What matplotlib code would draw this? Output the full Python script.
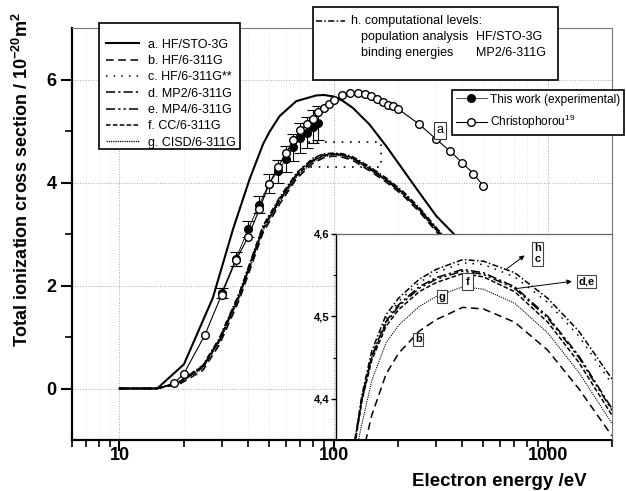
import matplotlib
matplotlib.use("Agg")
import matplotlib.pyplot as plt
from matplotlib.lines import Line2D
from matplotlib.patches import Rectangle
from matplotlib.ticker import LogLocator, NullFormatter, FixedLocator

plt.rcParams['font.family'] = ['Liberation Sans', 'DejaVu Sans']
plt.rcParams['mathtext.fontset'] = 'custom'
plt.rcParams['mathtext.rm'] = 'Liberation Sans'
plt.rcParams['mathtext.bf'] = 'Liberation Sans:bold'
plt.rcParams['mathtext.it'] = 'Liberation Sans:italic'

# ---------------- data ----------------
E_a = [10, 15, 20, 27.3, 33.9, 37.7, 40.5, 46.8, 50, 56, 67, 83, 90, 100, 110, 123, 147, 176, 211, 252, 302, 367, 420]
a_HF_STO3G = [0, 0, 0.47, 1.76, 3.09, 3.67, 4.06, 4.74, 4.97, 5.29, 5.58, 5.69, 5.70, 5.67, 5.59, 5.45, 5.13, 4.71, 4.25, 3.80, 3.35, 2.99, 2.72]

E_main = [10, 15, 19, 24.5, 29.3, 36.3, 46.8, 56, 67, 80, 90, 100, 110, 123, 147, 176, 211, 252, 313, 400]
b_HF_6311G = [0, 0, 0.08, 0.35, 0.85, 1.72, 3.02, 3.58, 4.07, 4.37, 4.48, 4.512, 4.49, 4.43, 4.23, 4.01, 3.75, 3.43, 2.97, 2.45]
c_HF_6311Gss = [0, 0, 0.13, 0.44, 0.97, 1.85, 3.15, 3.70, 4.17, 4.46, 4.55, 4.565, 4.55, 4.49, 4.30, 4.08, 3.82, 3.50, 3.04, 2.52]
d_MP2 = [0, 0, 0.12, 0.43, 0.95, 1.82, 3.12, 3.67, 4.15, 4.44, 4.53, 4.557, 4.54, 4.48, 4.28, 4.06, 3.80, 3.48, 3.02, 2.50]
e_MP4 = [0, 0, 0.12, 0.42, 0.94, 1.81, 3.11, 3.66, 4.14, 4.43, 4.53, 4.555, 4.535, 4.475, 4.275, 4.055, 3.795, 3.475, 3.015, 2.495]
f_CC = [0, 0, 0.11, 0.41, 0.93, 1.80, 3.10, 3.65, 4.13, 4.42, 4.52, 4.552, 4.53, 4.47, 4.27, 4.05, 3.79, 3.47, 3.01, 2.49]
g_CISD = [0, 0, 0.10, 0.39, 0.90, 1.77, 3.07, 3.62, 4.10, 4.40, 4.50, 4.537, 4.515, 4.455, 4.255, 4.035, 3.775, 3.455, 2.995, 2.475]
h_mixed = [0, 0, 0.13, 0.45, 0.98, 1.86, 3.16, 3.71, 4.18, 4.47, 4.56, 4.57, 4.56, 4.50, 4.31, 4.09, 3.83, 3.51, 3.05, 2.53]

E_chr = [18, 20, 25, 30, 35, 40, 45, 50, 55, 60, 65, 70, 75, 80, 85, 90, 95, 100, 110, 120,
         130, 140, 150, 160, 170, 180, 190, 200, 250, 300, 350, 400, 450, 500]
christophorou = [0.10, 0.29, 1.03, 1.82, 2.49, 2.95, 3.48, 3.97, 4.30, 4.57, 4.82, 5.01, 5.13, 5.24, 5.36, 5.45,
                 5.53, 5.60, 5.70, 5.74, 5.73, 5.71, 5.68, 5.62, 5.57, 5.51, 5.48, 5.43, 5.14, 4.85, 4.61, 4.38, 4.17, 3.94]

E_exp = [30, 35, 40, 45, 50, 55, 60, 65, 70, 75, 80, 85]
experimental = [1.86, 2.52, 3.10, 3.57, 3.98, 4.22, 4.46, 4.68, 4.87, 4.97, 5.08, 5.16]
exp_err = [0.10, 0.14, 0.16, 0.17, 0.19, 0.22, 0.25, 0.27, 0.29, 0.30, 0.32, 0.33]

# inset (enlarged peak region)
E_in = [125, 135, 150, 175, 200, 250, 300, 400, 500, 700, 1000, 1400, 2000]
h_in = [4.350, 4.405, 4.458, 4.502, 4.522, 4.545, 4.557, 4.569, 4.567, 4.553, 4.522, 4.482, 4.424]
c_in = [4.345, 4.400, 4.453, 4.497, 4.518, 4.541, 4.553, 4.565, 4.563, 4.548, 4.517, 4.476, 4.418]
d_in = [4.348, 4.402, 4.452, 4.494, 4.514, 4.536, 4.547, 4.557, 4.553, 4.536, 4.500, 4.452, 4.388]
e_in = [4.346, 4.400, 4.450, 4.492, 4.512, 4.534, 4.545, 4.555, 4.551, 4.534, 4.498, 4.450, 4.386]
f_in = [4.345, 4.398, 4.447, 4.488, 4.508, 4.530, 4.541, 4.552, 4.548, 4.530, 4.493, 4.444, 4.380]
g_in = [4.330, 4.370, 4.422, 4.468, 4.489, 4.512, 4.524, 4.536, 4.533, 4.516, 4.480, 4.432, 4.370]
b_in = [4.290, 4.330, 4.380, 4.430, 4.455, 4.482, 4.496, 4.511, 4.509, 4.493, 4.459, 4.412, 4.355]

# zoom box drawn in the main panel
box_E = [70, 167]
box_y = [4.30, 4.78]

legend_labels = ['a. HF/STO-3G', 'b. HF/6-311G', 'c. HF/6-311G**', 'd. MP2/6-311G',
                 'e. MP4/6-311G', 'f. CC/6-311G', 'g. CISD/6-311G']

# ---------------- styles ----------------
sty = {
    'a': dict(ls='-', lw=1.5),
    'b': dict(ls=(0, (5, 3)), lw=1.1),
    'c': dict(ls=(0, (1, 4)), lw=1.1),
    'd': dict(ls=(0, (6, 2, 1.5, 2)), lw=1.1),
    'e': dict(ls=(0, (6, 2, 1.5, 2, 1.5, 2)), lw=1.1),
    'f': dict(ls=(0, (3, 1.5)), lw=1.1),
    'g': dict(ls=(0, (1, 0.8)), lw=0.9),
    'h': dict(ls=(0, (4, 1.5, 1, 1.5)), lw=1.1),
}

W, H = 626, 491
fig = plt.figure(figsize=(W / 100, H / 100), dpi=100)
L, R, T, B = 72, 612, 28, 440
ax = fig.add_axes([L / W, 1 - B / H, (R - L) / W, (B - T) / H])

ax.set_xscale('log')
ax.set_xlim(6, 2000)
ax.set_ylim(-1, 7)

la, = ax.plot(E_a, a_HF_STO3G, color='black', **sty['a'], zorder=3)
lb, = ax.plot(E_main, b_HF_6311G, color='black', **sty['b'], zorder=3)
lc, = ax.plot(E_main, c_HF_6311Gss, color='black', **sty['c'], zorder=3)
ld, = ax.plot(E_main, d_MP2, color='black', **sty['d'], zorder=3)
le, = ax.plot(E_main, e_MP4, color='black', **sty['e'], zorder=3)
lf, = ax.plot(E_main, f_CC, color='black', **sty['f'], zorder=3)
lg, = ax.plot(E_main, g_CISD, color='black', **sty['g'], zorder=3)
lh, = ax.plot(E_main, h_mixed, color='black', **sty['h'], zorder=3)

# dotted zoom box (three visible sides)
ax.plot([box_E[0], box_E[1], box_E[1], box_E[0]], [box_y[1], box_y[1], box_y[0], box_y[0]],
        color='black', ls=(0, (1, 4)), lw=1.2, zorder=2)

ax.errorbar(E_exp, experimental, yerr=exp_err, fmt='o', color='black', ms=5.5,
            mfc='black', mec='black', elinewidth=0.8, capsize=4, capthick=0.8, zorder=4)
ax.plot(E_exp, experimental, color='black', lw=0.6, zorder=4)
ax.plot(E_chr, christophorou, color='black', lw=0.8, marker='o', ms=5.5, mfc='white',
        mec='black', mew=1.0, zorder=5)

ax.text(313, 5.01, 'a', fontsize=9, ha='center', va='center', zorder=6,
        bbox=dict(boxstyle='square,pad=0.2', fc='white', ec='#333333', lw=0.8))

# axes styling
ax.xaxis.set_major_locator(FixedLocator([10, 100, 1000]))
ax.set_xticklabels(['10', '100', '1000'])
ax.xaxis.set_minor_locator(LogLocator(base=10, subs=[2, 3, 4, 5, 6, 7, 8, 9]))
ax.xaxis.set_minor_formatter(NullFormatter())
ax.set_yticks([0, 2, 4, 6])
ax.yaxis.set_minor_locator(FixedLocator([1, 3, 5]))
ax.tick_params(which='major', direction='out', length=8, width=1.5, labelsize=13)
ax.tick_params(axis='x', which='major', pad=-3)
ax.tick_params(axis='y', which='major', pad=3)
ax.tick_params(which='minor', direction='out', length=5, width=1.2)
for lab in ax.get_xticklabels() + ax.get_yticklabels():
    lab.set_fontweight('bold')
ax.grid(True, which='major', ls=':', color='#a8a8a8', lw=0.7)
ax.grid(True, which='minor', axis='x', ls=':', color='#dedede', lw=0.5)
for s in ['left', 'bottom']:
    ax.spines[s].set_linewidth(1.6)
for s in ['top', 'right']:
    ax.spines[s].set_linewidth(0.8)
    ax.spines[s].set_color('#777777')

ax.set_ylabel(r'Total ionization cross section / 10$^{\mathbf{-20}}$m$^{\mathbf{2}}$',
              fontsize=13, fontweight='bold')
ax.yaxis.set_label_coords((22 - L) / (R - L), (B - 180) / (B - T))
ax.yaxis.label.set_va('center')
ax.set_xlabel('Electron energy /eV', fontsize=13.5, fontweight='bold')
ax.xaxis.set_label_coords((499.5 - L) / (R - L), (B - 481) / (B - T))
ax.xaxis.label.set_va('center')

# legend 1 (frame drawn separately to match the reference spacing)
ax.add_patch(Rectangle((99 / W, 1 - 149.3 / H), (240 - 99) / W, (149.3 - 23) / H,
                       transform=fig.transFigure, fc='white', ec='black', lw=1.2,
                       zorder=8, clip_on=False))
leg1 = ax.legend([la, lb, lc, ld, le, lf, lg], legend_labels, loc='upper left',
                 bbox_to_anchor=(106 / W, 1 - 38.6 / H), bbox_transform=fig.transFigure,
                 fontsize=9, frameon=False, handlelength=2.64, handletextpad=0.72,
                 labelspacing=0.35, borderpad=0, borderaxespad=0)
leg1.set_zorder(9)
ax.add_artist(leg1)

# legend 3 (experimental)
hexp = Line2D([], [], color='#555555', lw=0.8, marker='o', ms=5.5, mfc='black', mec='black')
hchr = Line2D([], [], color='black', lw=0.8, marker='o', ms=5.5, mfc='white', mec='black')
leg3 = ax.legend([hexp, hchr], ['This work (experimental)', r'Christophorou$^{19}$'],
                 loc='upper left', bbox_to_anchor=(452 / W, 1 - 90 / H),
                 bbox_transform=fig.transFigure, fontsize=8.6, fancybox=False,
                 edgecolor='black', framealpha=1, handlelength=2.6, handletextpad=0.3,
                 labelspacing=0.6, borderpad=0.3, borderaxespad=0)
leg3.get_frame().set_linewidth(1.2)
leg3.set_zorder(9)

# legend 2 (computational levels) drawn as a box
fig.add_artist(Rectangle((313 / W, 1 - 80 / H), (558 - 313) / W, (80 - 7) / H,
                         transform=fig.transFigure, fc='white', ec='black', lw=1.2, zorder=10))
fig.add_artist(Line2D([316 / W, 345 / W], [1 - 20.7 / H] * 2, transform=fig.transFigure,
                      color='black', zorder=11, **sty['h']))
fig.text(351 / W, 1 - 20.7 / H, 'h. computational levels:', fontsize=9, va='center', zorder=11)
fig.text(361 / W, 1 - 36.7 / H, 'population analysis', fontsize=9, va='center', zorder=11)
fig.text(476 / W, 1 - 36.7 / H, 'HF/STO-3G', fontsize=9, va='center', zorder=11)
fig.text(361 / W, 1 - 53.3 / H, 'binding energies', fontsize=9, va='center', zorder=11)
fig.text(476 / W, 1 - 53.3 / H, 'MP2/6-311G', fontsize=9, va='center', zorder=11)

# ---------------- inset ----------------
IL, IT, IB = 336, 234, 439
axi = fig.add_axes([IL / W, 1 - IB / H, (R - IL) / W, (IB - IT) / H])
axi.set_facecolor('white')
axi.set_xscale('log')
axi.set_xlim(102, 2000)
axi.set_ylim(4.35 + 0.1 * 1 / 82, 4.6)
axi.plot(E_in, h_in, color='black', **sty['h'])
axi.plot(E_in, c_in, color='black', **sty['c'])
axi.plot(E_in, d_in, color='black', **sty['d'])
axi.plot(E_in, e_in, color='black', **sty['e'])
axi.plot(E_in, f_in, color='black', **sty['f'])
axi.plot(E_in, g_in, color='black', ls=(0, (1, 1)), lw=0.8)
axi.plot(E_in, b_in, color='black', **sty['b'])
axi.xaxis.set_major_locator(FixedLocator([]))
axi.xaxis.set_minor_locator(FixedLocator([]))
axi.set_yticks([4.4, 4.5, 4.6])
axi.set_yticklabels(['4,4', '4,5', '4,6'])
axi.yaxis.set_minor_locator(FixedLocator([4.45, 4.55]))
axi.tick_params(axis='y', which='major', direction='out', length=3.5, width=1.0, labelsize=8, pad=1.5)
axi.tick_params(axis='y', which='minor', direction='out', length=2, width=0.8)
for lab in axi.get_yticklabels():
    lab.set_fontweight('bold')
axi.spines['bottom'].set_visible(False)
axi.spines['left'].set_linewidth(1.0)
axi.spines['top'].set_color('#666666')
axi.spines['top'].set_linewidth(0.9)
axi.spines['right'].set_color('#777777')
axi.spines['right'].set_linewidth(0.8)

bb = dict(boxstyle='square,pad=0.15', fc='white', ec='#444444', lw=0.8)
axi.text(896, 4.576, 'h\nc', fontsize=8, fontweight='bold', ha='center', va='center', bbox=bb, linespacing=1.1)
axi.text(1521, 4.542, 'd,e', fontsize=8, fontweight='bold', ha='center', va='center', bbox=bb)
axi.text(422, 4.542, 'f', fontsize=8, fontweight='bold', ha='center', va='center',
         bbox=dict(boxstyle='square,pad=0.3', fc='white', ec='#444444', lw=0.8))
axi.text(321, 4.524, 'g', fontsize=8, fontweight='bold', ha='center', va='center', bbox=bb)
axi.text(248, 4.472, 'b', fontsize=8, fontweight='bold', ha='center', va='center', bbox=bb)
arr = dict(arrowstyle='-|>', color='black', lw=0.7, mutation_scale=7)
axi.annotate('', xy=(798, 4.576), xytext=(630, 4.556), arrowprops=arr)
axi.annotate('', xy=(1337, 4.543), xytext=(676, 4.533), arrowprops=arr)

fig.savefig('out.png', dpi=100)
